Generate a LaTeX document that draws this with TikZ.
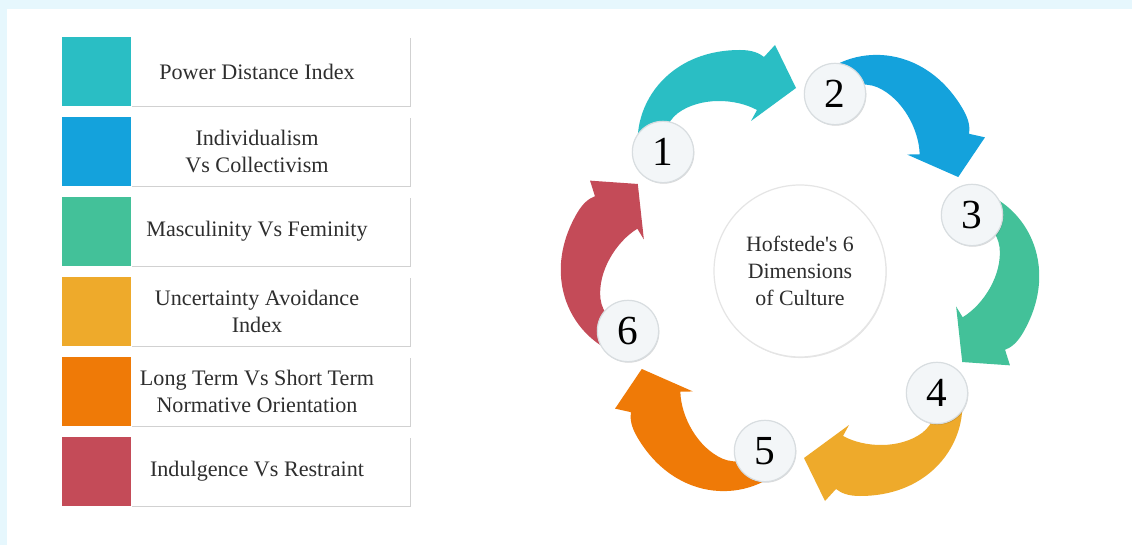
\documentclass[tikz,border=0pt]{standalone}
\usepackage{fontspec}
\setmainfont{Liberation Serif}
\usetikzlibrary{shadows}
\definecolor{bgblue}{HTML}{E6F7FD}
\definecolor{cteal}{HTML}{2ABEC4}
\definecolor{cblue}{HTML}{14A2DC}
\definecolor{cgreen}{HTML}{43C199}
\definecolor{cyellow}{HTML}{EEAA2B}
\definecolor{corange}{HTML}{EF7A07}
\definecolor{cred}{HTML}{C44B58}
\definecolor{txt}{HTML}{2E2E2E}
\definecolor{numfill}{HTML}{F3F6F8}
\definecolor{numline}{HTML}{D8DDE0}
\tikzset{
  sq/.style={rectangle, inner sep=0pt, minimum width=51.75pt, minimum height=51.75pt},
  labbox/.style={rectangle, inner sep=0pt, fill=white, minimum width=209.25pt, minimum height=51.75pt,
    drop shadow={shadow xshift=0.6pt, shadow yshift=-0.8pt, opacity=0.18, fill=black}},
  labtext/.style={align=center, text=txt, font=\fontsize{16.6}{20.5}\selectfont},
  numc/.style={circle, inner sep=0pt, minimum size=46pt, fill=numfill, draw=numline, line width=0.9pt,
    text=black, font=\fontsize{31}{31}\selectfont,
    drop shadow={shadow xshift=0.5pt, shadow yshift=-0.8pt, opacity=0.15, fill=black}},
  hubc/.style={circle, inner sep=0pt, minimum size=129pt, fill=white, draw=black!10, line width=0.9pt,
    align=center, text=txt, font=\fontsize{16.4}{20.3}\selectfont,
    drop shadow={shadow xshift=0.5pt, shadow yshift=-0.8pt, opacity=0.10, fill=black}}
}
\begin{document}
\begin{tikzpicture}[x=0.75pt,y=-0.75pt]
\useasboundingbox (0,0) rectangle (1132,545);
\fill[bgblue] (0,0) rectangle (1132,545);
\fill[white] (7,9) rectangle (1132,545);
% left legend
\foreach \i/\c/\t in {1/cteal/{Power Distance Index},
                      2/cblue/{Individualism\\Vs Collectivism},
                      3/cgreen/{Masculinity Vs Feminity},
                      4/cyellow/{Uncertainty Avoidance\\Index},
                      5/corange/{Long Term Vs Short Term\\Normative Orientation},
                      6/cred/{Indulgence Vs Restraint}} {
  \pgfmathsetmacro{\yc}{37+80*(\i-1)+34.5}
  \node[labbox] (box\i) at (270.5,\yc) {};
  \node[sq, fill=\c] (sq\i) at (96.5,\yc) {};
  \node[labtext] (lab\i) at (257,\yc) {\t};
}
% arrows
\foreach \k/\c in {0/cteal,1/cblue,2/cgreen,3/cyellow,4/corange,5/cred} {
  \begin{scope}[shift={(800,273)}, rotate=-60*\k]
    \fill[\c] (-158,-105) .. controls (-176,-158) and (-138,-223) .. (-60,-223)
      .. controls (-48,-223) and (-41,-220) .. (-36,-216) -- (-25,-228) -- (-4,-185)
      -- (-49,-152) -- (-43,-163)
      .. controls (-65,-175) and (-100,-176) .. (-122,-160)
      .. controls (-134,-151) and (-138,-136) .. (-134,-121) -- cycle;
  \end{scope}
}
% number circles
\node[numc] (n1) at (663,152) {1};
\node[numc] (n2) at (835,94) {2};
\node[numc] (n3) at (972,215) {3};
\node[numc] (n4) at (937,393) {4};
\node[numc] (n5) at (765,451) {5};
\node[numc] (n6) at (628,331) {6};
% hub
\node[hubc] (hub) at (800,271) {Hofstede\textquotesingle s 6\\Dimensions\\of Culture};
\end{tikzpicture}
\end{document}
